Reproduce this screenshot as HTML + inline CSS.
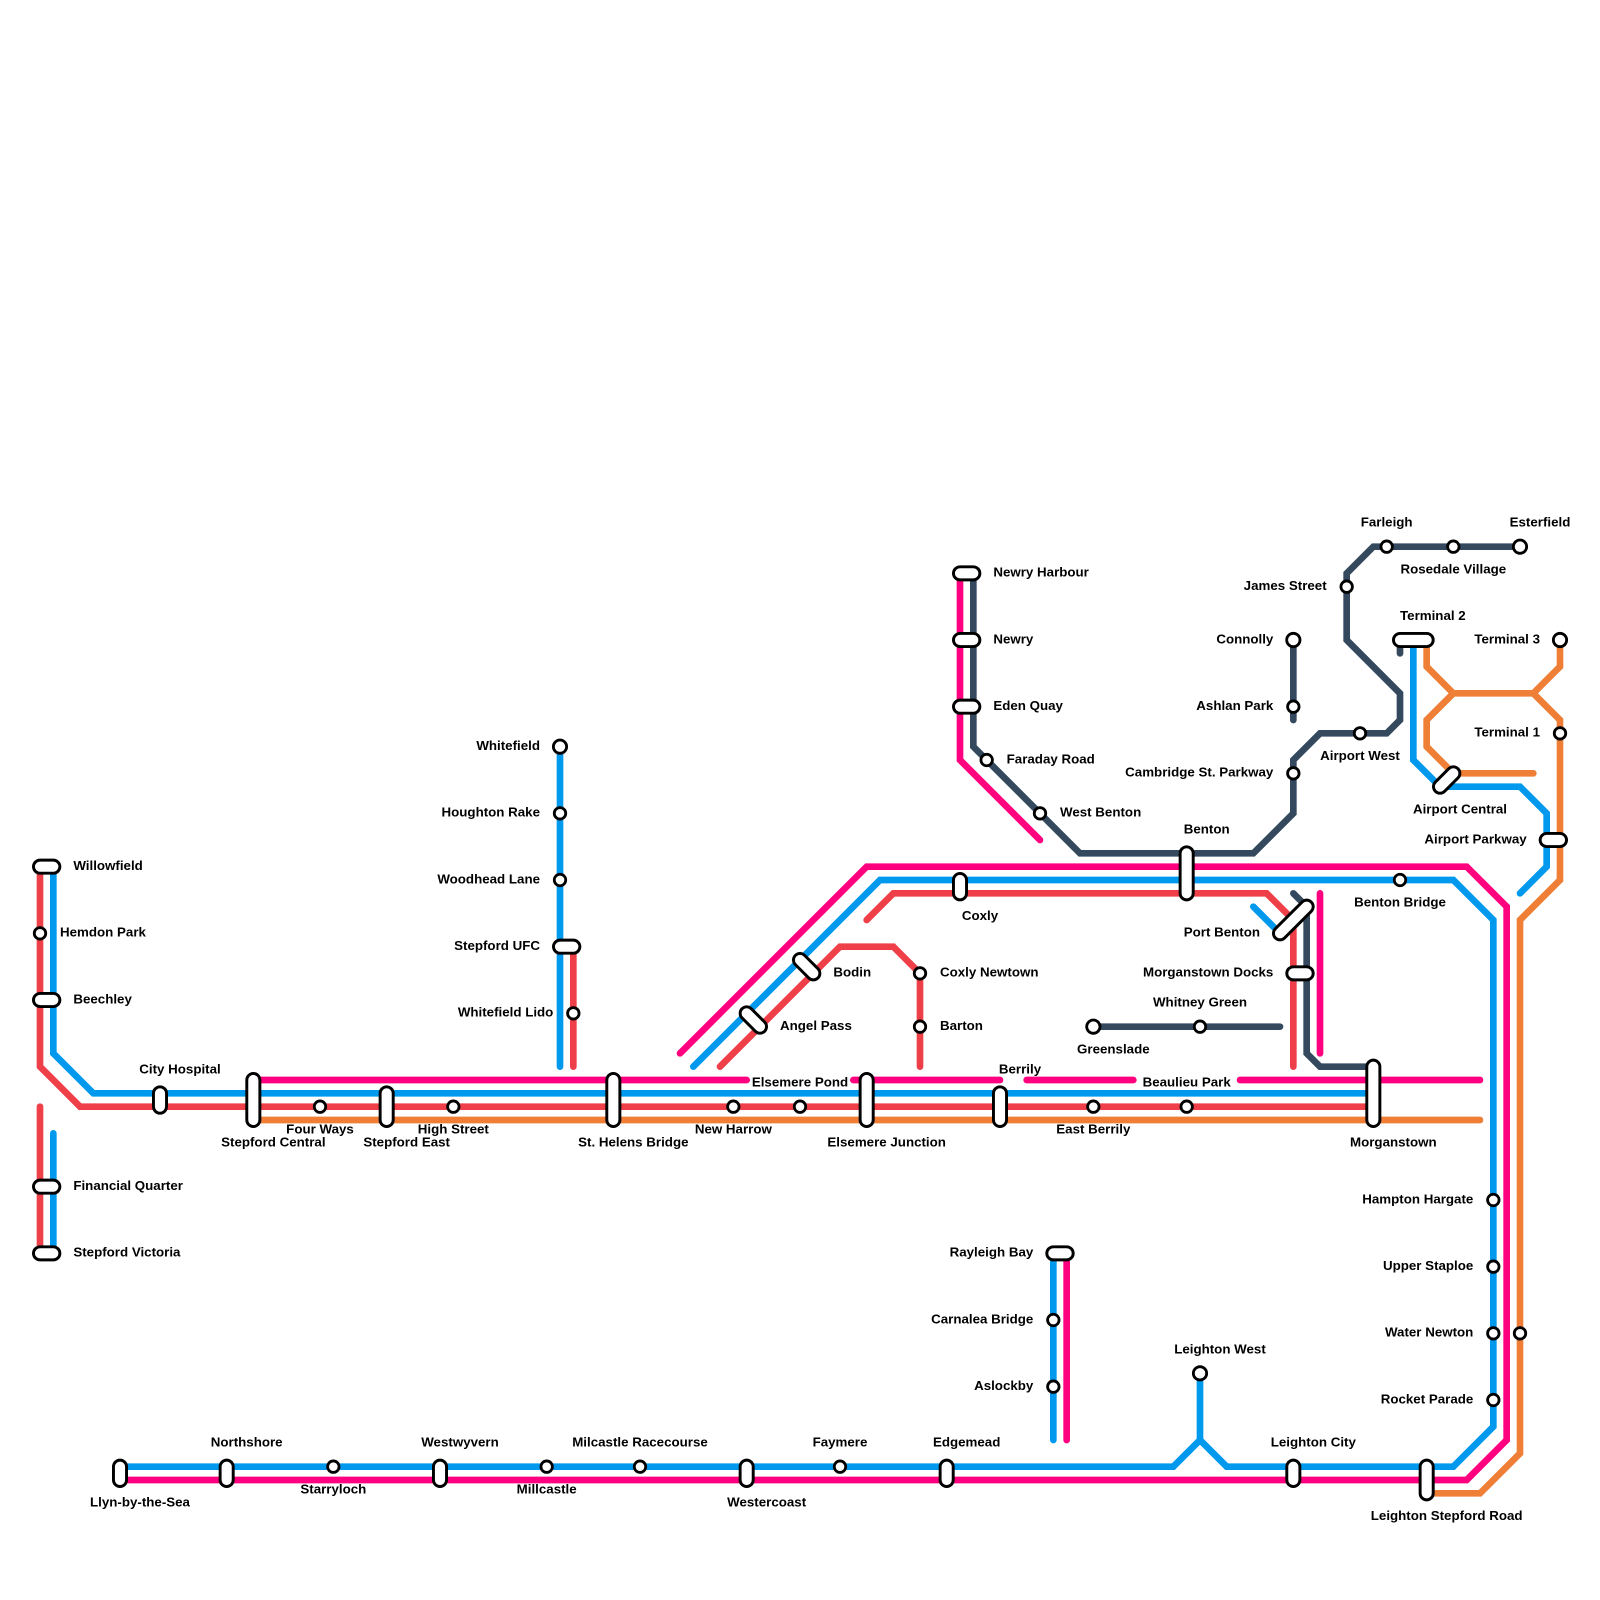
<!DOCTYPE html>
<html><head><meta charset="utf-8"><style>
html,body{margin:0;padding:0;background:#fff}
svg{display:block}
text{font-family:"Liberation Sans",sans-serif;font-weight:700;font-size:1px;fill:#000}
.m{text-anchor:middle}.e{text-anchor:end}
.l path{fill:none;stroke-width:.5;stroke-linecap:round;stroke-linejoin:miter}
.pk path{stroke:#ff007f}.bl path{stroke:#0099ee}.rd path{stroke:#ef4049}.or path{stroke:#ef7f36}.dk path{stroke:#34495e}
.pb{stroke:#000;stroke-width:1.2;stroke-linecap:round;fill:none}
.pw{stroke:#fff;stroke-width:.76;stroke-linecap:round;fill:none}
circle{fill:#fff;stroke:#000;stroke-width:.21}
</style></head><body>
<svg xmlns="http://www.w3.org/2000/svg" width="1600" height="1600" viewBox="0 0 120 120">
<rect width="120" height="120" fill="#fff"/>
<g class="l or">
<path d="M19 84H111"/>
<path d="M107 48V50L109 52H115L117 50V48"/>
<path d="M115 52L117 54V66L114 69V109L111 112H107"/>
<path d="M109 52L107 54V56L109 58H115"/>
</g>
<g class="l rd">
<path d="M3 65V80L6 83H103"/>
<path d="M3 83V94"/>
<path d="M43 71V80"/>
<path d="M54 80L63 71H67L69 73V80"/>
<path d="M65 69L67 67H95L97 69V80"/>
</g>
<g class="l dk">
<path d="M114 41H103L101 43V48L105 52V54L104 55H99L97 57V61L94 64H81L73 56V43"/>
<path d="M105 48V49"/>
<path d="M97 48V54"/>
<path d="M82 77H96"/>
<path d="M97 67L98 68V79L99 80H103"/>
</g>
<g class="l bl">
<path d="M4 65V79L7 82H103"/>
<path d="M4 85V94"/>
<path d="M42 56V80"/>
<path d="M52 80L66 66H109L112 69V107L109 110H92L90 108L88 110H9"/>
<path d="M90 103V108"/>
<path d="M79 94V108"/>
<path d="M106 48V57L108 59H114L116 61V65L114 67"/>
<path d="M94 68L96 70"/>
</g>
<g class="l pk">
<path d="M19 81H56"/>
<path d="M64 81H75"/>
<path d="M77 81H85"/>
<path d="M93 81H111"/>
<path d="M51 79L65 65H110L113 68V108L110 111H9"/>
<path d="M72 43V57L78 63"/>
<path d="M99 67V79"/>
<path d="M80 94V108"/>
</g>
<!-- interchange pills -->
<g>
<path class="pb" d="M3 65H4M3 75H4M3 89H4M3 94H4M12 82V83M19 81V84M29 82V84M42 71H43M46 81V84M65 81V84M75 82V84M72 66V67M60 72L61 73M56 76L57 77M72 43H73M72 48H73M72 53H73M89 64V67M96 70L98 68M97 73H98M103 80V84M105 48H107M108 59L109 58M116 63H117M9 110V111M17 110V111M33 110V111M56 110V111M71 110V111M97 110V111M107 110V112M79 94H80"/>
<path class="pw" d="M3 65H4M3 75H4M3 89H4M3 94H4M12 82V83M19 81V84M29 82V84M42 71H43M46 81V84M65 81V84M75 82V84M72 66V67M60 72L61 73M56 76L57 77M72 43H73M72 48H73M72 53H73M89 64V67M96 70L98 68M97 73H98M103 80V84M105 48H107M108 59L109 58M116 63H117M9 110V111M17 110V111M33 110V111M56 110V111M71 110V111M97 110V111M107 110V112M79 94H80"/>
</g>
<!-- circles -->
<g>
<circle cx="3" cy="70" r=".43"/><circle cx="24" cy="83" r=".43"/><circle cx="34" cy="83" r=".43"/>
<circle cx="55" cy="83" r=".43"/><circle cx="60" cy="83" r=".43"/><circle cx="82" cy="83" r=".43"/><circle cx="89" cy="83" r=".43"/>
<circle cx="42" cy="56" r=".5"/><circle cx="42" cy="61" r=".43"/><circle cx="42" cy="66" r=".43"/><circle cx="43" cy="76" r=".43"/>
<circle cx="69" cy="73" r=".43"/><circle cx="69" cy="77" r=".43"/>
<circle cx="74" cy="57" r=".43"/><circle cx="78" cy="61" r=".43"/>
<circle cx="82" cy="77" r=".5"/><circle cx="90" cy="77" r=".43"/>
<circle cx="114" cy="41" r=".5"/><circle cx="109" cy="41" r=".43"/><circle cx="104" cy="41" r=".43"/><circle cx="101" cy="44" r=".43"/>
<circle cx="97" cy="48" r=".5"/><circle cx="97" cy="53" r=".43"/><circle cx="97" cy="58" r=".43"/><circle cx="102" cy="55" r=".43"/>
<circle cx="117" cy="48" r=".5"/><circle cx="117" cy="55" r=".43"/><circle cx="105" cy="66" r=".43"/>
<circle cx="112" cy="90" r=".43"/><circle cx="112" cy="95" r=".43"/><circle cx="112" cy="100" r=".43"/><circle cx="112" cy="105" r=".43"/><circle cx="114" cy="100" r=".43"/>
<circle cx="79" cy="99" r=".43"/><circle cx="79" cy="104" r=".43"/><circle cx="90" cy="103" r=".5"/>
<circle cx="25" cy="110" r=".43"/><circle cx="41" cy="110" r=".43"/><circle cx="48" cy="110" r=".43"/><circle cx="63" cy="110" r=".43"/>
</g>
<!-- labels -->
<text x="5.5" y="65.25">Willowfield</text>
<text x="4.5" y="70.25">Hemdon Park</text>
<text x="5.5" y="75.25">Beechley</text>
<text x="5.5" y="89.25">Financial Quarter</text>
<text x="5.5" y="94.25">Stepford Victoria</text>
<text class="m" x="13.5" y="80.5">City Hospital</text>
<text class="m" x="20.5" y="86">Stepford Central</text>
<text class="m" x="24" y="85">Four Ways</text>
<text class="m" x="30.5" y="86">Stepford East</text>
<text class="m" x="34" y="85">High Street</text>
<text class="m" x="47.5" y="86">St. Helens Bridge</text>
<text class="m" x="55" y="85">New Harrow</text>
<text class="m" x="60" y="81.5">Elsemere Pond</text>
<text class="m" x="66.5" y="86">Elsemere Junction</text>
<text class="m" x="76.5" y="80.5">Berrily</text>
<text class="m" x="82" y="85">East Berrily</text>
<text class="m" x="89" y="81.5">Beaulieu Park</text>
<text class="m" x="104.5" y="86">Morganstown</text>
<text class="e" x="40.5" y="56.25">Whitefield</text>
<text class="e" x="40.5" y="61.25">Houghton Rake</text>
<text class="e" x="40.5" y="66.25">Woodhead Lane</text>
<text class="e" x="40.5" y="71.25">Stepford UFC</text>
<text class="e" x="41.5" y="76.25">Whitefield Lido</text>
<text x="62.5" y="73.25">Bodin</text>
<text x="58.5" y="77.25">Angel Pass</text>
<text x="70.5" y="73.25">Coxly Newtown</text>
<text x="70.5" y="77.25">Barton</text>
<text class="m" x="73.5" y="69">Coxly</text>
<text x="74.5" y="43.25">Newry Harbour</text>
<text x="74.5" y="48.25">Newry</text>
<text x="74.5" y="53.25">Eden Quay</text>
<text x="75.5" y="57.25">Faraday Road</text>
<text x="79.5" y="61.25">West Benton</text>
<text class="m" x="90.5" y="62.5">Benton</text>
<text class="m" x="83.5" y="79">Greenslade</text>
<text class="m" x="90" y="75.5">Whitney Green</text>
<text class="e" x="94.5" y="70.25">Port Benton</text>
<text class="e" x="95.5" y="73.25">Morganstown Docks</text>
<text class="e" x="95.5" y="48.25">Connolly</text>
<text class="e" x="95.5" y="53.25">Ashlan Park</text>
<text class="e" x="95.5" y="58.25">Cambridge St. Parkway</text>
<text class="e" x="99.5" y="44.25">James Street</text>
<text class="m" x="104" y="39.5">Farleigh</text>
<text class="m" x="115.5" y="39.5">Esterfield</text>
<text class="m" x="109" y="43">Rosedale Village</text>
<text x="105" y="46.5">Terminal 2</text>
<text class="e" x="115.5" y="48.25">Terminal 3</text>
<text class="e" x="115.5" y="55.25">Terminal 1</text>
<text class="m" x="102" y="57">Airport West</text>
<text class="m" x="109.5" y="61">Airport Central</text>
<text class="e" x="114.5" y="63.25">Airport Parkway</text>
<text class="m" x="105" y="68">Benton Bridge</text>
<text class="e" x="110.5" y="90.25">Hampton Hargate</text>
<text class="e" x="110.5" y="95.25">Upper Staploe</text>
<text class="e" x="110.5" y="100.25">Water Newton</text>
<text class="e" x="110.5" y="105.25">Rocket Parade</text>
<text class="e" x="77.5" y="94.25">Rayleigh Bay</text>
<text class="e" x="77.5" y="99.25">Carnalea Bridge</text>
<text class="e" x="77.5" y="104.25">Aslockby</text>
<text class="m" x="91.5" y="101.5">Leighton West</text>
<text class="m" x="98.5" y="108.5">Leighton City</text>
<text class="m" x="108.5" y="114">Leighton Stepford Road</text>
<text class="m" x="10.5" y="113">Llyn-by-the-Sea</text>
<text class="m" x="18.5" y="108.5">Northshore</text>
<text class="m" x="25" y="112">Starryloch</text>
<text class="m" x="34.5" y="108.5">Westwyvern</text>
<text class="m" x="41" y="112">Millcastle</text>
<text class="m" x="48" y="108.5">Milcastle Racecourse</text>
<text class="m" x="57.5" y="113">Westercoast</text>
<text class="m" x="63" y="108.5">Faymere</text>
<text class="m" x="72.5" y="108.5">Edgemead</text>
</svg>
</body></html>
